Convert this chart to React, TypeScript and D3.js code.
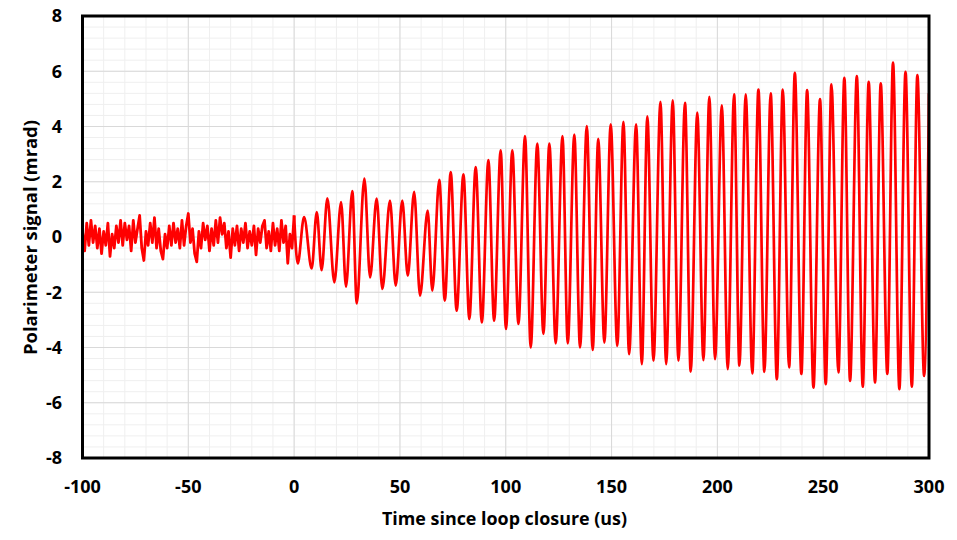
import React from "react";
import * as d3 from "d3";

// Pre-closure noise, one reading per microsecond from t = -100 to -1 (mrad)
const noiseStart = -100;
const noiseValues = [
  0.2, -0.5, 0.5, -0.3, 0.6, -0.2, 0.4, -0.4, 0.3, -0.6,
  0.2, -0.3, 0.5, -0.7, 0.1, -0.4, 0.4, -0.2, 0.6, -0.3,
  0.5, -0.1, 0.4, -0.5, 0.6, -0.2, 0.3, 0.78, -0.4, -0.85,
  0.2, -0.3, 0.5, -0.2, 0.7, -0.4, 0.3, -0.5, -0.8, 0.1,
  -0.4, 0.4, -0.3, 0.5, -0.2, 0.3, -0.4, 0.6, -0.3, 0.4,
  0.85, -0.2, 0.3, -0.6, -0.9, 0.2, -0.4, 0.5, -0.1, 0.4,
  -0.5, 0.3, -0.3, 0.6, -0.2, 0.7, 0.1, 0.5, -0.4, 0.2,
  -0.75, 0.3, -0.3, 0.4, -0.5, 0.3, -0.2, 0.5, -0.4, 0.2,
  -0.3, 0.4, -0.65, 0.3, -0.2, 0.4, 0.6, -0.4, 0.2, -0.5,
  0.5, -0.3, 0.3, -0.5, 0.6, -0.2, 0.4, -0.95, 0.1, -0.4,
];

// Oscillation extrema after loop closure (time in us, signal in mrad)
const extremaTimes = [
  0.0, 1.7, 4.7, 8.3, 10.7, 13.0, 15.7, 19.0, 22.2, 24.5,
  27.5, 29.6, 33.2, 35.9, 39.0, 41.7, 45.3, 48.0, 51.1, 53.7,
  56.7, 59.5, 63.1, 65.3, 68.6, 71.2, 74.0, 76.8, 80.0, 82.8,
  85.8, 88.7, 91.8, 94.5, 97.6, 100.1, 103.1, 106.0, 109.1, 111.8,
  114.9, 117.8, 120.6, 123.6, 126.8, 129.3, 132.4, 135.1, 138.3, 141.1,
  143.7, 146.6, 149.6, 152.7, 155.6, 158.3, 161.6, 164.3, 166.9, 169.8,
  173.1, 175.8, 178.9, 181.6, 184.7, 187.4, 190.5, 193.4, 196.2, 198.9,
  202.1, 204.9, 207.9, 210.4, 213.4, 216.5, 219.4, 222.2, 225.2, 228.1,
  230.9, 233.9, 236.6, 239.7, 242.4, 245.4, 248.5, 251.2, 253.9, 257.2,
  260.0, 262.7, 265.9, 268.7, 271.5, 274.5, 277.2, 280.3, 283.0, 286.0,
  288.9, 291.9, 294.5, 297.7, 300.0,
];
const extremaValues = [
  0.78, -0.96, 0.72, -1.14, 0.9, -1.2, 1.4, -1.64, 1.26, -1.8,
  1.66, -2.4, 2.11, -1.46, 1.39, -1.88, 1.32, -1.76, 1.32, -1.4,
  1.63, -2.12, 0.96, -1.94, 2.07, -2.3, 2.35, -2.67, 2.27, -2.97,
  2.53, -3.09, 2.78, -3.03, 3.14, -3.33, 3.14, -3.15, 3.65, -4.0,
  3.38, -3.51, 3.38, -3.85, 3.65, -3.85, 3.71, -4.0, 4.01, -4.09,
  3.55, -3.82, 4.08, -3.94, 4.17, -4.24, 4.08, -4.6, 4.37, -4.48,
  4.89, -4.6, 4.95, -4.48, 4.86, -4.87, 4.5, -4.46, 5.07, -4.42,
  4.77, -4.78, 5.16, -4.66, 5.16, -4.94, 5.34, -4.88, 5.2, -5.15,
  5.34, -4.72, 5.94, -4.96, 5.32, -5.45, 4.99, -5.33, 5.53, -4.9,
  5.76, -5.21, 5.82, -5.42, 5.62, -5.27, 5.56, -4.96, 6.31, -5.51,
  5.98, -5.42, 5.86, -5.03, 5.2,
];

const xTicks = [-100, -50, 0, 50, 100, 150, 200, 250, 300];
const yTicks = [-8, -6, -4, -2, 0, 2, 4, 6, 8];
const xTitle = "Time since loop closure (us)";
const yTitle = "Polarimeter signal (mrad)";

const W = 957;
const H = 540;
const M = { left: 82.5, right: 929, top: 16, bottom: 458 };
const FONT = "'Open Sans', 'Noto Sans', sans-serif";

export default function App() {
  const x = d3.scaleLinear().domain([-100, 300]).range([M.left, M.right]);
  const y = d3.scaleLinear().domain([-8, 8]).range([M.bottom, M.top]);

  const xMinor = d3.range(-100, 301, 10);
  const yMinor = d3.range(-8, 8.001, 0.4);

  type P = [number, number];
  const noisePts: P[] = noiseValues.map((v, i) => [noiseStart + i, v]);
  noisePts.push([extremaTimes[0], extremaValues[0]]);
  const oscPts: P[] = extremaTimes.map((t, i) => [t, extremaValues[i]]);

  const linear = d3
    .line<P>()
    .x((d) => x(d[0]))
    .y((d) => y(d[1]));
  const smooth = d3
    .line<P>()
    .x((d) => x(d[0]))
    .y((d) => y(d[1]))
    .curve(d3.curveMonotoneX);

  return (
    <svg
      width={W}
      height={H}
      style={{ position: "absolute", left: 0, top: 0, background: "#fff" }}
    >
      <defs>
        <clipPath id="plotClip">
          <rect x={M.left} y={M.top} width={M.right - M.left} height={M.bottom - M.top} />
        </clipPath>
      </defs>
      {/* minor grid */}
      {xMinor.map((t) => (
        <line key={"xm" + t} x1={x(t)} x2={x(t)} y1={M.top} y2={M.bottom} stroke="#efefef" strokeWidth={1} />
      ))}
      {yMinor.map((v, i) => (
        <line key={"ym" + i} x1={M.left} x2={M.right} y1={y(v)} y2={y(v)} stroke="#efefef" strokeWidth={1} />
      ))}
      {/* major grid */}
      {xTicks.map((t) => (
        <line key={"xg" + t} x1={x(t)} x2={x(t)} y1={M.top} y2={M.bottom} stroke="#d9d9d9" strokeWidth={1} />
      ))}
      {yTicks.map((v) => (
        <line key={"yg" + v} x1={M.left} x2={M.right} y1={y(v)} y2={y(v)} stroke="#d9d9d9" strokeWidth={1} />
      ))}
      {/* signal */}
      <g clipPath="url(#plotClip)">
        <path d={linear(noisePts) || ""} fill="none" stroke="#ff0000" strokeWidth={2.8} strokeLinejoin="round" />
        <path d={smooth(oscPts) || ""} fill="none" stroke="#ff0000" strokeWidth={2.7} strokeLinejoin="round" />
      </g>
      {/* frame */}
      <rect
        x={M.left}
        y={M.top}
        width={M.right - M.left}
        height={M.bottom - M.top}
        fill="none"
        stroke="#000"
        strokeWidth={3}
      />
      {/* tick labels */}
      {xTicks.map((t) => (
        <text
          key={"xt" + t}
          x={x(t)}
          y={493}
          textAnchor="middle"
          fontFamily={FONT}
          fontWeight={700}
          fontSize={18}
          fill="#000"
        >
          {t}
        </text>
      ))}
      {yTicks.map((v) => (
        <text
          key={"yt" + v}
          x={62}
          y={y(v)}
          dy="0.35em"
          textAnchor="end"
          fontFamily={FONT}
          fontWeight={700}
          fontSize={18}
          fill="#000"
        >
          {v}
        </text>
      ))}
      {/* axis titles */}
      <text
        x={(382 + 627) / 2}
        y={525}
        textAnchor="middle"
        fontFamily={FONT}
        fontWeight={700}
        fontSize={18}
        textLength={245}
        lengthAdjust="spacingAndGlyphs"
        fill="#000"
      >
        {xTitle}
      </text>
      <text
        transform={`translate(37, ${(120 + 355) / 2}) rotate(-90)`}
        textAnchor="middle"
        fontFamily={FONT}
        fontWeight={700}
        fontSize={18}
        textLength={235}
        lengthAdjust="spacingAndGlyphs"
        fill="#000"
      >
        {yTitle}
      </text>
    </svg>
  );
}
